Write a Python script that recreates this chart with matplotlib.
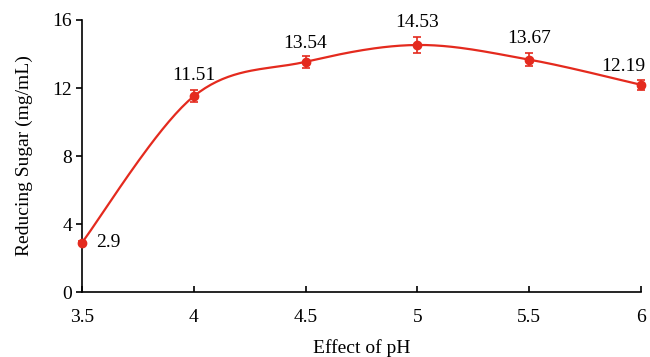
import matplotlib
matplotlib.use("Agg")
import matplotlib.pyplot as plt
import numpy as np

# data
ph = [3.5, 4.0, 4.5, 5.0, 5.5, 6.0]
sugar = [2.9, 11.51, 13.54, 14.53, 13.67, 12.19]
err = [0.1, 0.35, 0.35, 0.45, 0.4, 0.3]
labels = ["2.9", "11.51", "13.54", "14.53", "13.67", "12.19"]

red = "#e42a1e"
plt.rcParams["font.family"] = ["Liberation Serif", "DejaVu Serif"]


def smooth(x, y, n=40, t=0.5):
    # catmull-rom style bezier, like a spreadsheet "smoothed line"
    x = np.asarray(x, float)
    y = np.asarray(y, float)
    px = np.concatenate([[x[0]], x, [x[-1]]])
    py = np.concatenate([[y[0]], y, [y[-1]]])
    xs, ys = [], []
    for i in range(1, len(px) - 2):
        p0 = np.array([px[i - 1], py[i - 1]])
        p1 = np.array([px[i], py[i]])
        p2 = np.array([px[i + 1], py[i + 1]])
        p3 = np.array([px[i + 2], py[i + 2]])
        c1 = p1 + (p2 - p0) * t / 3
        c2 = p2 - (p3 - p1) * t / 3
        s = np.linspace(0, 1, n)[:, None]
        b = ((1 - s) ** 3) * p1 + 3 * ((1 - s) ** 2) * s * c1 + 3 * (1 - s) * s ** 2 * c2 + s ** 3 * p2
        xs.append(b[:, 0])
        ys.append(b[:, 1])
    return np.concatenate(xs), np.concatenate(ys)


fig = plt.figure(figsize=(6.5, 3.57), dpi=100)
ax = fig.add_axes([0.126, 0.182, 0.86, 0.762])

cx, cy = smooth(ph, sugar)
ax.plot(cx, cy, color=red, lw=1.6, clip_on=False)
ax.errorbar(ph, sugar, yerr=err, fmt="o", color=red, ms=6, capsize=3,
            elinewidth=1.2, capthick=1.2, clip_on=False, zorder=3)

# label placement (offsets in points)
offs = [(10, 0), (0, 9), (0, 7), (0, 10), (0, 9), (3, 7)]
has = ["left", "center", "center", "center", "center", "right"]
vas = ["center", "bottom", "bottom", "bottom", "bottom", "bottom"]
for x, y, s, o, h, v in zip(ph, sugar, labels, offs, has, vas):
    ax.annotate(s, (x, y), xytext=o, textcoords="offset points",
                fontsize=14, ha=h, va=v)

ax.set_xlim(3.5, 6)
ax.set_ylim(0, 16)
ax.set_xticks(ph)
ax.set_xticklabels(["3.5", "4", "4.5", "5", "5.5", "6"])
ax.set_yticks([0, 4, 8, 12, 16])
ax.spines["top"].set_visible(False)
ax.spines["right"].set_visible(False)
ax.spines["left"].set_linewidth(1.2)
ax.spines["bottom"].set_linewidth(1.2)
ax.tick_params(axis="x", direction="in", length=4, width=1.2, labelsize=14, pad=12)
ax.tick_params(axis="y", direction="out", length=4, width=1.2, labelsize=14, pad=3)
ax.set_xlabel("Effect of pH", fontsize=14, labelpad=10)
ax.set_ylabel("Reducing Sugar (mg/mL)", fontsize=14, labelpad=14)

fig.savefig("out.png", dpi=100)
